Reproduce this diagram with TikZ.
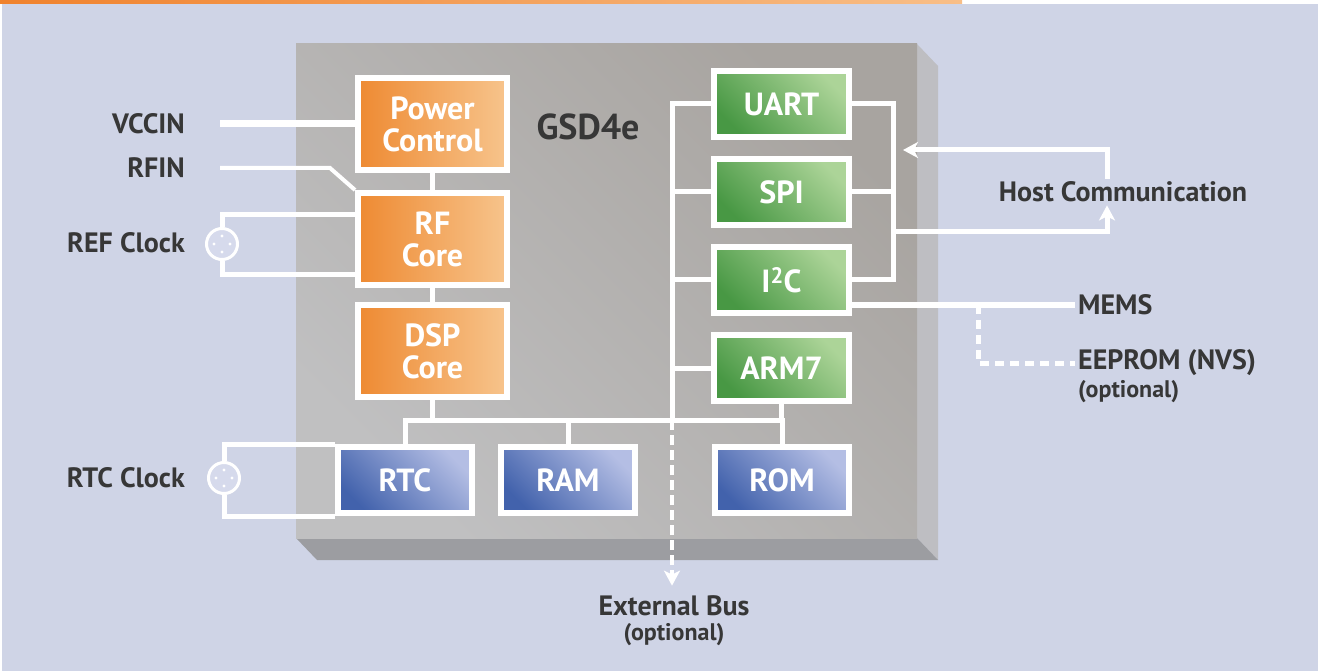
\documentclass[tikz,border=0pt]{standalone}
\usepackage{fontspec}
\setmainfont{PT Sans}
\usepackage{tikz}
\usetikzlibrary{calc}
\usetikzlibrary{positioning}
\usetikzlibrary{arrows.meta}

\definecolor{bgblue}{RGB}{207,212,230}
\definecolor{labelgray}{RGB}{55,55,55}
\definecolor{barL}{RGB}{240,130,45}
\definecolor{barR}{RGB}{248,190,135}
\definecolor{chipD}{RGB}{168,164,160}
\definecolor{chipL}{RGB}{192,192,193}
\definecolor{chipside}{RGB}{190,190,194}
\definecolor{chipbottom}{RGB}{156,157,161}
\definecolor{coreL}{RGB}{238,138,50}
\definecolor{coreR}{RGB}{247,196,140}
\definecolor{portD}{RGB}{72,152,68}
\definecolor{portL}{RGB}{172,212,152}
\definecolor{memD}{RGB}{66,98,172}
\definecolor{memL}{RGB}{180,190,228}
\definecolor{xtalfill}{RGB}{214,218,236}

\begin{document}
\begin{tikzpicture}[x=1pt,y=-1pt,
  tag/.style={font=\fontsize{28}{30}\selectfont\bfseries,text=labelgray,inner sep=3pt},
  opt/.style={font=\fontsize{24}{26}\selectfont\bfseries,text=labelgray,inner sep=1pt},
  box/.style={draw=white,line width=6pt,text=white,font=\fontsize{32}{32}\selectfont\bfseries,align=center,inner sep=0pt},
  core/.style={box,minimum width=149pt,minimum height=92pt,left color=coreL,right color=coreR},
  port/.style={box,minimum width=135pt,minimum height=66pt,top color=portL,bottom color=portD,shading angle=-45},
  mem/.style={box,minimum width=134pt,minimum height=66pt,top color=memL,bottom color=memD,shading angle=-45},
  wire/.style={draw=white,line width=5pt},
  xtal/.style={circle,draw=white,line width=3pt,fill=xtalfill,minimum size=31pt,inner sep=0pt},
  arrowed/.style={-{Stealth[length=15pt,width=16pt,inset=4pt]}}]

\useasboundingbox (0,0) rectangle (1318,671);
\fill[white] (0,0) rectangle (1318,671);
\fill[bgblue] (2,4) rectangle (1318,671);
\shade[left color=barL,right color=barR] (0,0) rectangle (962,4);

\fill[chipside] (917,44) -- (938,66) -- (938,560) -- (917,538) -- cycle;
\fill[chipbottom] (296,538) -- (917,538) -- (938,560) -- (317,560) -- cycle;
\shade[top color=chipD,bottom color=chipL,shading angle=-45] (296,44) rectangle (917,538);

\node[font=\fontsize{36}{38}\selectfont\bfseries,text=labelgray] (chipname) at (588,127) {GSD4e};

\node[core] (pwr) at (432.5,124) {Power\\Control};
\node[core,below=17pt of pwr] (rf) {RF\\Core};
\node[core,below=14pt of rf] (dsp) {DSP\\Core};

\node[port] (uart) at (781.5,104) {UART};
\node[port,below=16pt of uart] (spi) {SPI};
\node[port,below=16pt of spi] (i2c) {I\textsuperscript{2}C};
\node[port,below=16pt of i2c] (arm7) {ARM7};

\node[mem] (rtc) at (405,480) {RTC};
\node[mem] (ram) at (568,480) {RAM};
\node[mem] (rom) at (782,480) {ROM};

\node[xtal] (xref) at (222,244) {};
\node[xtal] (xrtc) at (224,478) {};
\foreach \x in {xref,xrtc}
  \foreach \a in {0,90,180,270}
    \fill[white] (\x) ++(\a:8pt) circle (1.7pt);

\node[tag,anchor=east] (vccin) at (188,124) {VCCIN};
\node[tag,anchor=east] (rfin) at (188,168) {RFIN};
\node[tag,anchor=east] (refclk) at (188,243) {REF Clock};
\node[tag,anchor=east] (rtcclk) at (188,478) {RTC Clock};

\node[tag] (host) at (1123,192) {Host Communication};
\node[tag,anchor=west] (mems) at (1075,305) {MEMS};
\node[tag,anchor=west] (eeprom) at (1075,363) {EEPROM (NVS)};
\node[opt,anchor=north west] (eeprom opt) at ([xshift=2pt]eeprom.south west) {(optional)};
\node[tag] (ext) at (674,606) {External Bus};
\node[opt,below=3pt of ext] (ext opt) {(optional)};

\coordinate (vccin end) at (220,124);
\coordinate (rfin end) at (220,168);
\coordinate (bus) at (0,420);
\coordinate (pbus) at (672,0);
\coordinate (rbus) at (893,0);
\coordinate (host tip) at (903,150);
\coordinate (tap) at (978,305);

\draw[wire,line width=7pt] (vccin end) -- (pwr.west);
\draw[wire,line width=4pt] (rfin end) -- (330,168) -- (rf.north west);
\draw[wire] (xref.north) |- (rf.west |- 0,215);
\draw[wire] (xref.south) |- (rf.west |- 0,275);
\draw[wire] (xrtc.north) |- (rtc.north west);
\draw[wire] (xrtc.south) |- (rtc.south west);

\draw[wire] (pwr.south) -- (rf.north);
\draw[wire] (rf.south) -- (dsp.north);
\draw[wire] (dsp.south) -- (dsp.south |- bus);
\draw[wire] (rtc.north) |- (rom.north |- bus) -- (rom.north);
\draw[wire] (ram.north) -- (ram.north |- bus);
\draw[wire] (arm7.south) -- (arm7.south |- bus);

\draw[wire] (uart.west) -| (pbus |- bus);
\foreach \p in {spi,i2c,arm7}
  \draw[wire] (\p.west) -- (\p.west -| pbus);
\draw[wire] (uart.east) -| (rbus |- i2c.east) -- (i2c.east);
\draw[wire] (spi.east) -- (spi.east -| rbus);

\draw[wire,arrowed] (rbus |- 0,232) -| ([xshift=-16pt]host.south);
\draw[wire,arrowed] ([xshift=-16pt]host.north) |- (host tip);
\draw[wire,line width=4pt,dash pattern=on 10pt off 5pt,arrowed,shorten >=7pt] (pbus |- bus) -- (pbus |- ext.north);

\draw[wire] (mems.west) -- (mems.west -| i2c.east);
\draw[wire,dash pattern=on 9pt off 6pt] (tap) |- (eeprom.west);
\end{tikzpicture}
\end{document}
